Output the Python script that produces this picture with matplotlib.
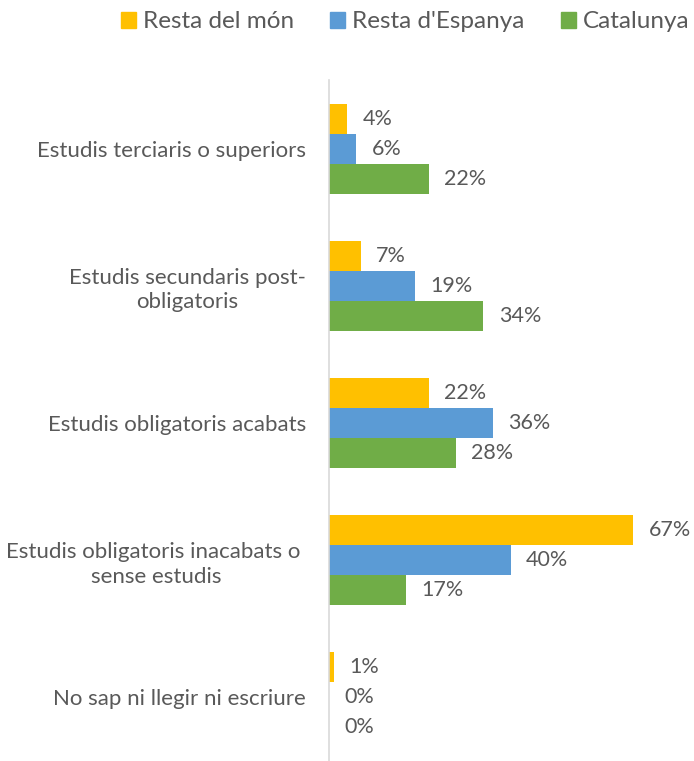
import matplotlib
matplotlib.use("Agg")
import matplotlib.pyplot as plt
import numpy as np
from matplotlib.patches import Patch

categories = [
    "Estudis terciaris o superiors",
    "Estudis secundaris post-\nobligatoris",
    "Estudis obligatoris acabats",
    "Estudis obligatoris inacabats o \nsense estudis",
    "No sap ni llegir ni escriure",
]
series_names = ["Resta del món", "Resta d'Espanya", "Catalunya"]
resta_mon = [4, 7, 22, 67, 1]
resta_espanya = [6, 19, 36, 40, 0]
catalunya = [22, 34, 28, 17, 0]
colors = ["#FFC000", "#5B9BD5", "#70AD47"]

plt.rcParams["font.family"] = ["Lato", "DejaVu Sans"]
TXT = "#595959"

fig = plt.figure(figsize=(6.94, 7.61), dpi=100)
ax = fig.add_axes([329 / 694, 0.0, 318 / 694, (761 - 80) / 761])

y = np.arange(len(categories))
h = 0.219
for i, (vals, col) in enumerate(zip([resta_mon, resta_espanya, catalunya], colors)):
    pos = y + (i - 1) * h
    ax.barh(pos, vals, height=h, color=col)
    for p, v in zip(pos, vals):
        ax.annotate(f"{v}%", (v, p), xytext=(11, 0), textcoords="offset points",
                    va="center", ha="left", fontsize=15.5, color=TXT)

ax.set_xlim(0, 70)
ax.set_ylim(4.467, -0.5)
ax.set_yticks(y)
ax.set_yticklabels(categories, fontsize=16, color=TXT, ha="right",
                   multialignment="center", linespacing=1.3)
ax.tick_params(axis="y", length=0, pad=16.5)
ax.set_xticks([])
for s in ["top", "right", "bottom"]:
    ax.spines[s].set_visible(False)
ax.spines["left"].set_color("#D9D9D9")
ax.spines["left"].set_linewidth(1.2)

handles = [Patch(color=c) for c in colors]
fig.legend(handles, series_names, loc="center", bbox_to_anchor=(0.584, 1 - 22 / 761),
           ncol=3, frameon=False, fontsize=17.5, labelcolor=TXT,
           handlelength=0.6, handleheight=0.6, handletextpad=0.3, columnspacing=1.5)

plt.savefig("out.png", dpi=100)
